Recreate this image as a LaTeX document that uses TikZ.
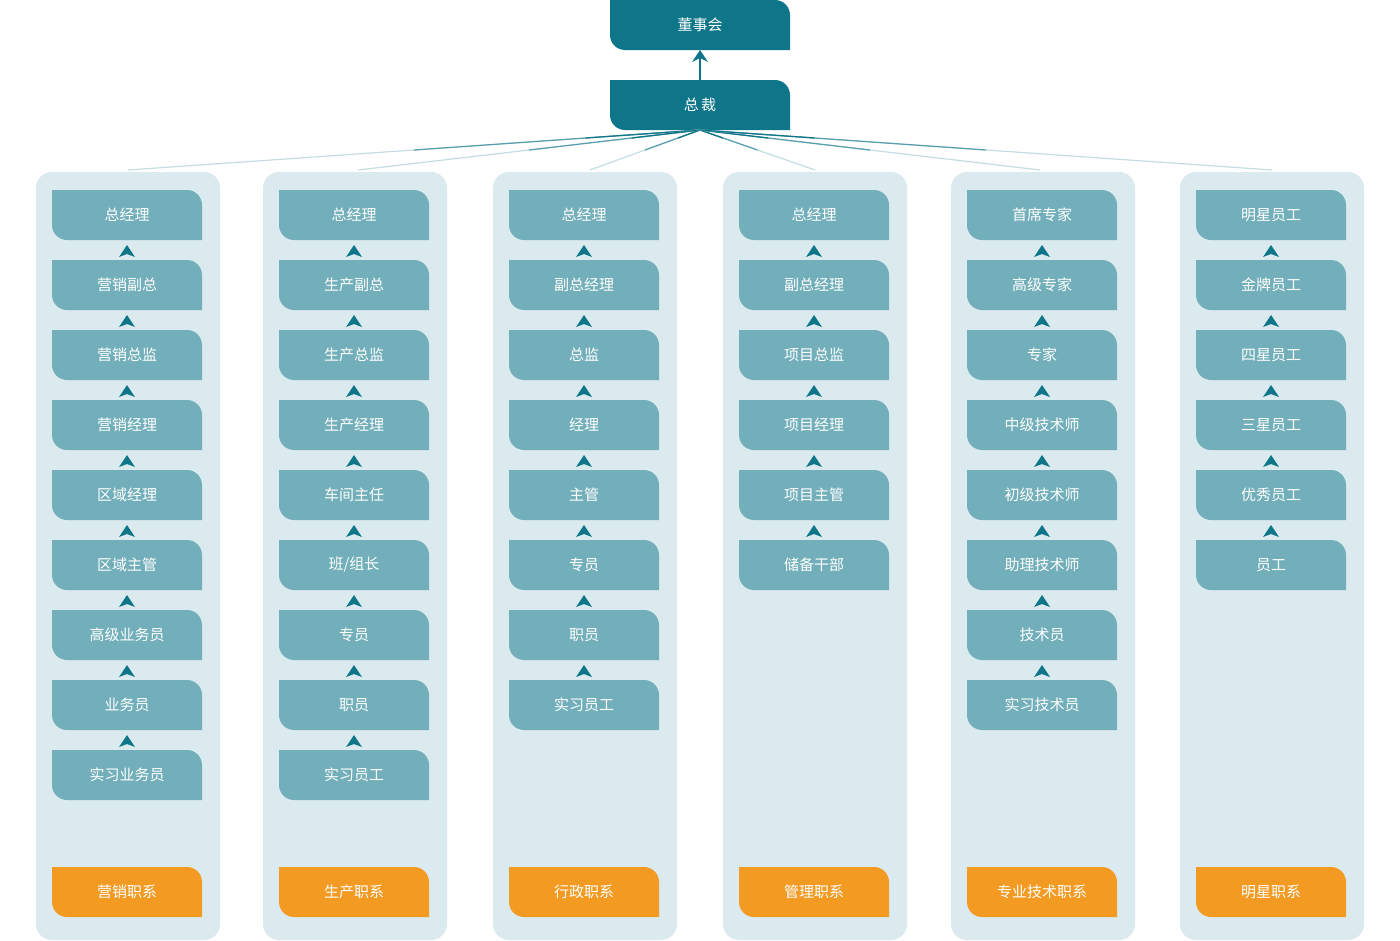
\documentclass[tikz,border=0pt]{standalone}
\usepackage{fontspec}
\usetikzlibrary{calc}
\newfontfamily\cjk{Noto Sans CJK SC}
\definecolor{dk}{HTML}{0F7589}
\definecolor{bx}{HTML}{72AFBA}
\definecolor{pn}{HTML}{DAEAEE}
\definecolor{og}{HTML}{F39A22}
\tikzset{lbl/.style={text=white,font=\cjk\fontsize{15}{15}\selectfont,inner sep=0pt}}
% \cb{name}{x}{y}{w}{h}{color}{text}  (x,y top-left)
\newcommand{\cb}[7]{%
 \fill[#6] ({#2},{#3}) [rounded corners=15pt] -- ({#2+#4},{#3}) [sharp corners] -- ({#2+#4},{#3+#5}) [rounded corners=15pt] -- ({#2},{#3+#5}) [sharp corners] -- cycle;
 \node[lbl] (#1) at ({#2+#4/2},{#3+#5/2}) {#7};}
\newcommand{\upar}[2]{\fill[dk] ({#1},{#2-7}) -- ({#1+8},{#2+5}) -- ({#1},{#2+2}) -- ({#1-8},{#2+5}) -- cycle;}
\begin{document}
\begin{tikzpicture}[x=1pt,y=-1pt]
\useasboundingbox (0,0) rectangle (1400,940);
\cb{board}{610}{0}{180}{50}{dk}{董事会}
\cb{ceo}{610}{80}{180}{50}{dk}{总\,裁}
\draw[dk,line width=1.5pt] (700,80) -- (700,56);
\fill[dk] (700,50) -- (708,62) -- (700,58) -- (692,62) -- cycle;
\coordinate (hub) at (700,130);
\foreach \px/\cx in {36/128,263/358,493/590,723/815,951/1040,1180/1272}{
  \fill[pn,rounded corners=16pt] (\px,172) rectangle ({\px+184},940);
  \coordinate (t\px) at (\cx,170);
  \draw[dk!25,line width=1.2pt] (hub) -- (t\px);
  \draw[dk!70,line width=1.2pt] (hub) -- ($(hub)!0.5!(t\px)$);
  \draw[dk,line width=1.2pt] (hub) -- ($(hub)!0.2!(t\px)$);
}
\newcommand{\col}[3]{%
 \foreach \t [count=\i from 0] in {#2}{
   \pgfmathtruncatemacro\by{190+70*\i}
   \pgfmathtruncatemacro\ay{182+70*\i}
   \cb{c#1n\i}{#1+16}{\by}{150}{50}{bx}{\t}
   \ifnum\i>0 \upar{#1+91}{\ay}\fi
 }
 \cb{c#1o}{#1+16}{867}{150}{50}{og}{#3}}
\col{36}{总经理,营销副总,营销总监,营销经理,区域经理,区域主管,高级业务员,业务员,实习业务员}{营销职系}
\col{263}{总经理,生产副总,生产总监,生产经理,车间主任,班/组长,专员,职员,实习员工}{生产职系}
\col{493}{总经理,副总经理,总监,经理,主管,专员,职员,实习员工}{行政职系}
\col{723}{总经理,副总经理,项目总监,项目经理,项目主管,储备干部}{管理职系}
\col{951}{首席专家,高级专家,专家,中级技术师,初级技术师,助理技术师,技术员,实习技术员}{专业技术职系}
\col{1180}{明星员工,金牌员工,四星员工,三星员工,优秀员工,员工}{明星职系}
\end{tikzpicture}
\end{document}
